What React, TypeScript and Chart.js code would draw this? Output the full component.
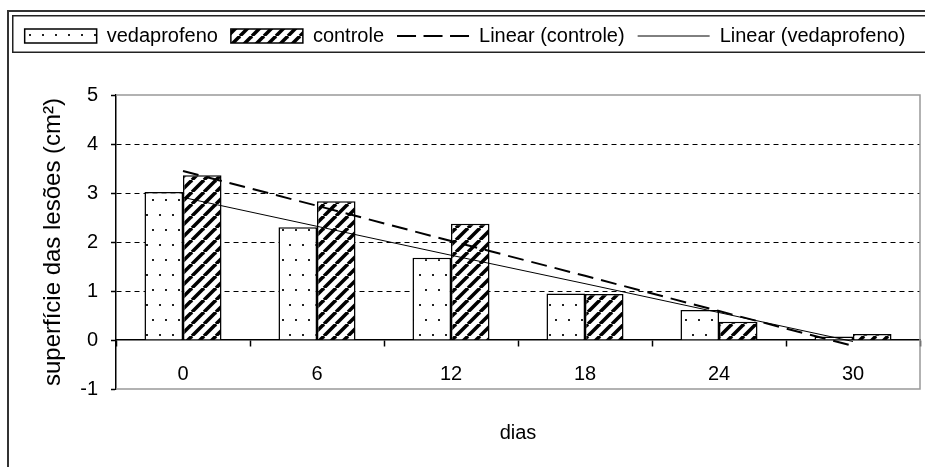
import React, { useEffect, useRef } from 'react';
import { Chart, registerables } from 'chart.js';

Chart.register(...registerables);

// ---- data ----
const categories = ['0', '6', '12', '18', '24', '30'];
const vedaprofeno = [3.02, 2.3, 1.68, 0.95, 0.61, 0.07];
const controle = [3.36, 2.83, 2.37, 0.94, 0.37, 0.12];
const linearControle = [3.45, 2.74, 2.02, 1.31, 0.59, -0.12];
const linearVedaprofeno = [2.91, 2.32, 1.73, 1.15, 0.56, -0.03];
const yMin = -1;
const yMax = 5;
const yStep = 1;
const dashedGridValues = [1, 2, 3, 4];

const FONT = '"Liberation Sans", Arial, sans-serif';

function makeDots(ctx: CanvasRenderingContext2D): CanvasPattern {
  const c = document.createElement('canvas');
  c.width = 13;
  c.height = 30;
  const g = c.getContext('2d')!;
  g.fillStyle = '#fff';
  g.fillRect(0, 0, 13, 30);
  g.fillStyle = '#222';
  g.fillRect(3, 4, 2, 2);
  g.fillRect(9, 19, 2, 2);
  return ctx.createPattern(c, 'repeat')!;
}

function makeHatch(ctx: CanvasRenderingContext2D): CanvasPattern {
  const P = 12;
  const c = document.createElement('canvas');
  c.width = P;
  c.height = P;
  const g = c.getContext('2d')!;
  g.fillStyle = '#fff';
  g.fillRect(0, 0, P, P);
  g.strokeStyle = '#000';
  g.lineWidth = 3.5;
  for (let k = -1; k <= 1; k++) {
    g.beginPath();
    g.moveTo(k * P, P);
    g.lineTo(k * P + P, 0);
    g.stroke();
  }
  return ctx.createPattern(c, 'repeat')!;
}

const framePlugin = {
  id: 'frames',
  beforeDraw(chart: any) {
    const ctx = chart.ctx as CanvasRenderingContext2D;
    ctx.save();
    ctx.fillStyle = '#fff';
    ctx.fillRect(0, 0, chart.width, chart.height);
    ctx.strokeStyle = '#333';
    ctx.lineWidth = 2;
    ctx.strokeRect(8, 11, 2000, 2000);
    ctx.strokeStyle = '#222';
    ctx.lineWidth = 1.5;
    ctx.strokeRect(12.75, 15.75, 2000, 36.5);
    ctx.restore();
  },
  beforeDatasetsDraw(chart: any) {
    const ctx = chart.ctx as CanvasRenderingContext2D;
    const a = chart.chartArea;
    ctx.save();
    ctx.strokeStyle = '#999';
    ctx.lineWidth = 1.5;
    ctx.beginPath();
    ctx.moveTo(a.left, a.top);
    ctx.lineTo(a.right, a.top);
    ctx.lineTo(a.right, a.bottom);
    ctx.lineTo(a.left, a.bottom);
    ctx.stroke();
    ctx.restore();
  },
};

export default function App() {
  const ref = useRef<HTMLCanvasElement | null>(null);

  useEffect(() => {
    document.body.style.margin = '0';
    const canvas = ref.current!;
    const ctx = canvas.getContext('2d')!;
    const dots = makeDots(ctx);
    const hatch = makeHatch(ctx);

    Chart.defaults.font.family = FONT;
    Chart.defaults.color = '#000';

    const chart = new Chart(canvas, {
      type: 'bar',
      data: {
        labels: categories,
        datasets: [
          {
            type: 'bar',
            label: 'vedaprofeno',
            data: vedaprofeno,
            backgroundColor: dots,
            borderColor: '#000',
            borderWidth: 1.5,
            categoryPercentage: 0.575,
            barPercentage: 1,
            xAxisID: 'x',
            yAxisID: 'y',
            order: 2,
          } as any,
          {
            type: 'bar',
            label: 'controle',
            data: controle,
            backgroundColor: hatch,
            borderColor: '#000',
            borderWidth: 1.5,
            categoryPercentage: 0.575,
            barPercentage: 1,
            xAxisID: 'x',
            yAxisID: 'y',
            order: 3,
          } as any,
          {
            type: 'line',
            label: 'Linear (controle)',
            data: linearControle,
            borderColor: '#000',
            borderWidth: 2,
            borderDash: [16, 8],
            pointRadius: 0,
            fill: false,
            tension: 0,
            xAxisID: 'x',
            yAxisID: 'y',
            order: 1,
          } as any,
          {
            type: 'line',
            label: 'Linear (vedaprofeno)',
            data: linearVedaprofeno,
            borderColor: '#000',
            borderWidth: 1,
            pointRadius: 0,
            fill: false,
            tension: 0,
            xAxisID: 'x',
            yAxisID: 'y',
            order: 0,
          } as any,
        ],
      },
      options: {
        animation: false,
        responsive: false,
        devicePixelRatio: 1,
        layout: { padding: { top: 13, left: 5, right: 0, bottom: 0 } },
        plugins: {
          tooltip: { enabled: false },
          legend: {
            position: 'top',
            labels: {
              color: '#000',
              font: { size: 20, family: FONT },
              usePointStyle: true,
              pointStyleWidth: 72,
              boxHeight: 14,
              padding: 13,
              sort: (a: any, b: any) => a.datasetIndex - b.datasetIndex,
              generateLabels: (chart: any) => {
                const items = (Chart.defaults.plugins.legend.labels as any).generateLabels(chart);
                return items.map((it: any) => {
                  const ds = chart.data.datasets[it.datasetIndex];
                  if (ds.type === 'line') {
                    return {
                      ...it,
                      pointStyle: 'line',
                      lineDash: ds.borderDash ? [19, 7.5] : [],
                      lineWidth: ds.borderWidth,
                      strokeStyle: '#000',
                    };
                  }
                  return { ...it, pointStyle: 'rect', lineWidth: 1.5, strokeStyle: '#000' };
                });
              },
            },
          } as any,
        },
        scales: {
          x: {
            type: 'category',
            position: { y: 0 } as any,
            offset: true,
            grid: {
              display: true,
              drawOnChartArea: false,
              drawTicks: true,
              tickLength: 6,
              tickColor: '#000',
              tickWidth: 1.5,
              offset: true,
            },
            border: { display: true, color: '#000', width: 1.5 },
            ticks: { color: '#000', font: { size: 20, family: FONT }, padding: 16, maxRotation: 0 },
          },
          xt: {
            type: 'category',
            position: 'top',
            grid: { display: false },
            border: { display: false },
            ticks: { display: false },
            afterFit: (s: any) => {
              s.height = 39;
            },
          },
          xb: {
            type: 'category',
            position: 'bottom',
            grid: { display: false },
            border: { display: false },
            ticks: { display: false },
            title: {
              display: true,
              text: 'dias',
              color: '#000',
              font: { size: 20, family: FONT },
              padding: { top: 0, bottom: 22 },
            },
            afterFit: (s: any) => {
              s.height = 78;
            },
          },
          yr: {
            type: 'linear',
            position: 'right',
            grid: { display: false },
            border: { display: false },
            ticks: { display: false },
            afterFit: (s: any) => {
              s.width = 5;
            },
          },
          y: {
            type: 'linear',
            position: 'left',
            min: yMin,
            max: yMax,
            ticks: { stepSize: yStep, color: '#000', font: { size: 20, family: FONT }, padding: 13 },
            grid: {
              color: (c: any) => (dashedGridValues.includes(c.tick?.value) ? '#000' : 'rgba(0,0,0,0)'),
              lineWidth: 1,
              tickColor: '#000',
              tickLength: 5,
              tickWidth: 1.5,
              drawTicks: true,
            },
            border: { display: true, color: '#000', width: 1.5, dash: [5, 4] },
            title: {
              display: true,
              text: 'superfície das lesões (cm²)',
              color: '#000',
              font: { size: 24, family: FONT },
              padding: { top: 34, bottom: 0 },
            },
            afterFit: (s: any) => {
              s.width = 111;
            },
          },
        },
      } as any,
      plugins: [framePlugin],
    });

    return () => {
      chart.destroy();
    };
  }, []);

  return (
    <div style={{ position: 'absolute', left: 0, top: 0, width: 925, height: 467 }}>
      <canvas ref={ref} width={925} height={467} style={{ display: 'block', width: 925, height: 467 }} />
    </div>
  );
}
